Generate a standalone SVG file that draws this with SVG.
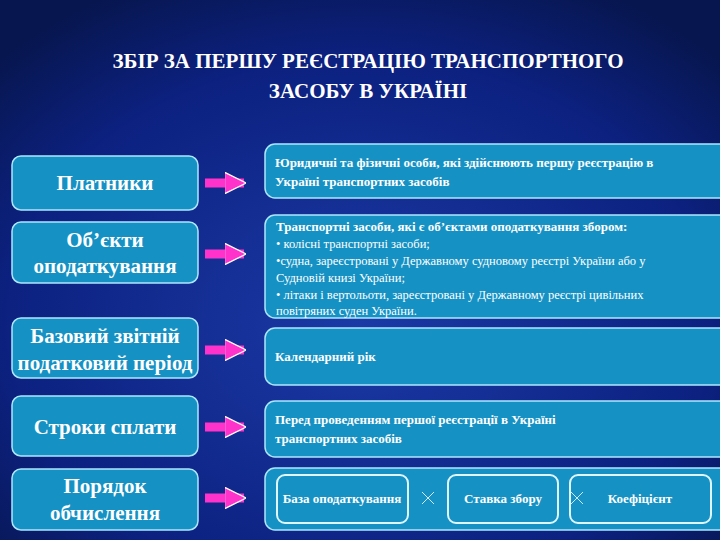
<svg xmlns="http://www.w3.org/2000/svg" width="720" height="540" viewBox="0 0 720 540">
<defs>
<radialGradient id="bg" cx="50%" cy="60%" r="70%">
<stop offset="0" stop-color="#1b3aa6"/><stop offset="0.7" stop-color="#0c2180"/><stop offset="1" stop-color="#07164f"/>
</radialGradient>
<marker id="ah" viewBox="0 0 10 10" refX="9" refY="5" markerWidth="2.4" markerHeight="2.4" orient="auto" markerUnits="strokeWidth"><path d="M0,0 L10,5 L0,10 z" fill="#ff33cc" stroke="#ffffff" stroke-width="0.6"/></marker>
</defs>
<style>
.box{fill:#1591c4;stroke:#aee6ff;stroke-width:1.5}
.in{fill:#1591c4;stroke:#e0f6ff;stroke-width:2}
.lt{font-family:"Liberation Serif",serif;font-size:21px;font-weight:bold;fill:#ffffff;text-anchor:middle}
.rt{font-family:"Liberation Serif",serif;font-size:12.5px;fill:#ffffff}
.rb{font-family:"Liberation Serif",serif;font-size:13px;font-weight:bold;fill:#ffffff}
.ti{font-family:"Liberation Serif",serif;font-size:21px;font-weight:bold;fill:#ffffff;text-anchor:middle}
.arr{stroke:#ff33cc;stroke-width:9;fill:none}
.x{stroke:#cfe8ff;stroke-width:1}
</style>
<rect width="720" height="540" fill="url(#bg)"/>
<text class="ti" x="368" y="68">ЗБІР ЗА ПЕРШУ РЕЄСТРАЦІЮ ТРАНСПОРТНОГО</text>
<text class="ti" x="368" y="98">ЗАСОБУ В УКРАЇНІ</text>

<g id="left1"><rect class="box" x="12" y="156" width="186" height="54" rx="9"/><text class="lt" x="105" y="190">Платники</text></g>
<g id="left2"><rect class="box" x="12" y="222" width="186" height="61" rx="9"/><text class="lt" x="105" y="247">Об’єкти</text><text class="lt" x="105" y="273">оподаткування</text></g>
<g id="left3"><rect class="box" x="12" y="318" width="186" height="60" rx="9"/><text class="lt" x="105" y="343">Базовий звітній</text><text class="lt" x="105" y="370">податковий період</text></g>
<g id="left4"><rect class="box" x="12" y="396" width="186" height="60" rx="9"/><text class="lt" x="105" y="434">Строки сплати</text></g>
<g id="left5"><rect class="box" x="12" y="469" width="186" height="61" rx="9"/><text class="lt" x="105" y="493">Порядок</text><text class="lt" x="105" y="520">обчислення</text></g>

<g id="right1"><rect class="box" x="265" y="144" width="470" height="54" rx="10"/>
<text class="rb" x="275" y="167">Юридичні та фізичні особи, які здійснюють першу реєстрацію в</text>
<text class="rb" x="275" y="186">Україні транспортних  засобів</text></g>
<g id="right2"><rect class="box" x="265" y="215" width="470" height="103" rx="10"/>
<text class="rb" x="276" y="231">Транспортні засоби, які є об’єктами оподаткування збором:</text>
<text class="rt" x="276" y="248">• колісні транспортні засоби;</text>
<text class="rt" x="276" y="265">•судна, зареєстровані у Державному судновому реєстрі України або у</text>
<text class="rt" x="276" y="282">Судновій книзі України;</text>
<text class="rt" x="276" y="299">• літаки і вертольоти, зареєстровані у Державному реєстрі цивільних</text>
<text class="rt" x="276" y="315">повітряних суден України.</text></g>
<g id="right3"><rect class="box" x="265" y="328" width="470" height="57" rx="10"/>
<text class="rb" x="275" y="361">Календарний рік</text></g>
<g id="right4"><rect class="box" x="265" y="401" width="470" height="56" rx="10"/>
<text class="rb" x="275" y="424">Перед проведенням першої реєстрації в Україні</text>
<text class="rb" x="275" y="443">транспортних засобів</text></g>
<g id="right5"><rect class="box" x="265" y="468" width="470" height="62" rx="10"/>
<rect class="in" x="277" y="475" width="131" height="48" rx="8"/><text class="rb" x="342" y="503" text-anchor="middle">База оподаткування</text>
<rect class="in" x="448" y="475" width="110" height="48" rx="8"/><text class="rb" x="503" y="503" text-anchor="middle">Ставка збору</text>
<rect class="in" x="570" y="475" width="141" height="48" rx="8"/><text class="rb" x="640" y="503" text-anchor="middle">Коефіцієнт</text>
<path class="x" d="M422,492 L434,504 M434,492 L422,504 M571,492 L583,504 M583,492 L571,504"/></g>

<g id="connectors">
<path class="arr" d="M205,183 H244" marker-end="url(#ah)"/>
<path class="arr" d="M205,254 H244" marker-end="url(#ah)"/>
<path class="arr" d="M205,350 H244" marker-end="url(#ah)"/>
<path class="arr" d="M205,427 H244" marker-end="url(#ah)"/>
<path class="arr" d="M205,498 H244" marker-end="url(#ah)"/>
</g>
</svg>
